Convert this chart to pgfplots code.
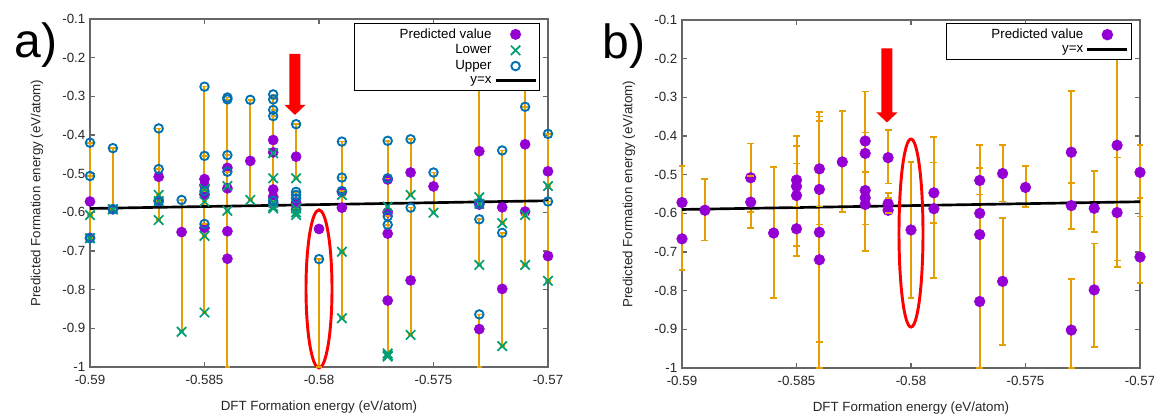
\documentclass[border=0pt]{standalone}
\usepackage{fontspec}
\setmainfont{Liberation Sans}
\usepackage{pgfplots}
\usepackage{pgfplotstable}
\pgfplotsset{compat=1.18}

\definecolor{pviolet}{HTML}{9400D3}
\definecolor{lgreen}{HTML}{009E73}
\definecolor{ublue}{HTML}{0072B2}
\definecolor{eorange}{HTML}{E69F00}

% predicted values, same in both panels
\pgfplotstableread{
x p
-0.590 -0.572
-0.590 -0.666
-0.589 -0.592
-0.587 -0.508
-0.587 -0.571
-0.586 -0.651
-0.585 -0.514
-0.585 -0.530
-0.585 -0.554
-0.585 -0.640
-0.584 -0.485
-0.584 -0.538
-0.584 -0.649
-0.584 -0.720
-0.583 -0.467
-0.582 -0.413
-0.582 -0.445
-0.582 -0.541
-0.582 -0.560
-0.582 -0.577
-0.581 -0.456
-0.581 -0.575
-0.581 -0.592
-0.580 -0.643
-0.579 -0.547
-0.579 -0.588
-0.577 -0.515
-0.577 -0.600
-0.577 -0.655
-0.577 -0.828
-0.576 -0.497
-0.576 -0.776
-0.575 -0.533
-0.573 -0.442
-0.573 -0.580
-0.573 -0.902
-0.572 -0.587
-0.572 -0.798
-0.571 -0.424
-0.571 -0.598
-0.570 -0.494
-0.570 -0.713
}\pred

% panel a: one interval per line, lower then upper (-1 = below the plot)
\pgfplotstableread[row sep=\\]{
x y \\
-0.590 -0.607 \\ -0.590 -0.420 \\ nan nan \\
-0.590 -0.667 \\ -0.590 -0.506 \\ nan nan \\
-0.590 -0.667 \\ -0.590 -0.667 \\ nan nan \\
-0.589 -0.592 \\ -0.589 -0.434 \\ nan nan \\
-0.589 -0.592 \\ -0.589 -0.592 \\ nan nan \\
-0.587 -0.555 \\ -0.587 -0.383 \\ nan nan \\
-0.587 -0.620 \\ -0.587 -0.488 \\ nan nan \\
-0.587 -0.571 \\ -0.587 -0.571 \\ nan nan \\
-0.586 -0.909 \\ -0.586 -0.568 \\ nan nan \\
-0.585 -0.540 \\ -0.585 -0.275 \\ nan nan \\
-0.585 -0.572 \\ -0.585 -0.454 \\ nan nan \\
-0.585 -0.661 \\ -0.585 -0.545 \\ nan nan \\
-0.585 -0.859 \\ -0.585 -0.630 \\ nan nan \\
-0.584 -0.532 \\ -0.584 -0.303 \\ nan nan \\
-0.584 -0.596 \\ -0.584 -0.308 \\ nan nan \\
-0.584 -1.000 \\ -0.584 -0.452 \\ nan nan \\
-0.584 -1.000 \\ -0.584 -0.495 \\ nan nan \\
-0.583 -0.568 \\ -0.583 -0.309 \\ nan nan \\
-0.582 -0.447 \\ -0.582 -0.295 \\ nan nan \\
-0.582 -0.512 \\ -0.582 -0.308 \\ nan nan \\
-0.582 -0.575 \\ -0.582 -0.335 \\ nan nan \\
-0.582 -0.585 \\ -0.582 -0.351 \\ nan nan \\
-0.582 -0.590 \\ -0.582 -0.570 \\ nan nan \\
-0.581 -0.512 \\ -0.581 -0.372 \\ nan nan \\
-0.581 -0.590 \\ -0.581 -0.547 \\ nan nan \\
-0.581 -0.607 \\ -0.581 -0.555 \\ nan nan \\
-0.581 -0.600 \\ -0.581 -0.564 \\ nan nan \\
-0.580 -1.000 \\ -0.580 -0.721 \\ nan nan \\
-0.579 -0.702 \\ -0.579 -0.417 \\ nan nan \\
-0.579 -0.874 \\ -0.579 -0.510 \\ nan nan \\
-0.579 -0.555 \\ -0.579 -0.545 \\ nan nan \\
-0.577 -0.585 \\ -0.577 -0.415 \\ nan nan \\
-0.577 -0.965 \\ -0.577 -0.512 \\ nan nan \\
-0.577 -0.973 \\ -0.577 -0.610 \\ nan nan \\
-0.577 -0.970 \\ -0.577 -0.632 \\ nan nan \\
-0.576 -0.555 \\ -0.576 -0.411 \\ nan nan \\
-0.576 -0.917 \\ -0.576 -0.588 \\ nan nan \\
-0.575 -0.601 \\ -0.575 -0.497 \\ nan nan \\
-0.573 -0.561 \\ -0.573 -0.200 \\ nan nan \\
-0.573 -0.736 \\ -0.573 -0.618 \\ nan nan \\
-0.573 -1.000 \\ -0.573 -0.864 \\ nan nan \\
-0.573 -0.578 \\ -0.573 -0.578 \\ nan nan \\
-0.572 -0.628 \\ -0.572 -0.440 \\ nan nan \\
-0.572 -0.946 \\ -0.572 -0.653 \\ nan nan \\
-0.571 -0.736 \\ -0.571 -0.200 \\ nan nan \\
-0.571 -0.607 \\ -0.571 -0.327 \\ nan nan \\
-0.570 -0.532 \\ -0.570 -0.397 \\ nan nan \\
-0.570 -0.777 \\ -0.570 -0.572 \\ nan nan \\
}\segA

% panel b: error bar ends
\pgfplotstableread[row sep=\\]{
x y \\
-0.590 -0.747 \\ -0.590 -0.478 \\ nan nan \\
-0.589 -0.670 \\ -0.589 -0.511 \\ nan nan \\
-0.587 -0.597 \\ -0.587 -0.419 \\ nan nan \\
-0.587 -0.638 \\ -0.587 -0.504 \\ nan nan \\
-0.586 -0.819 \\ -0.586 -0.480 \\ nan nan \\
-0.585 -0.685 \\ -0.585 -0.400 \\ nan nan \\
-0.585 -0.711 \\ -0.585 -0.426 \\ nan nan \\
-0.585 -0.582 \\ -0.585 -0.471 \\ nan nan \\
-0.584 -0.582 \\ -0.584 -0.338 \\ nan nan \\
-0.584 -0.629 \\ -0.584 -0.350 \\ nan nan \\
-0.584 -0.932 \\ -0.584 -0.361 \\ nan nan \\
-0.584 -1.000 \\ -0.584 -0.582 \\ nan nan \\
-0.583 -0.597 \\ -0.583 -0.335 \\ nan nan \\
-0.582 -0.493 \\ -0.582 -0.285 \\ nan nan \\
-0.582 -0.629 \\ -0.582 -0.391 \\ nan nan \\
-0.582 -0.697 \\ -0.582 -0.391 \\ nan nan \\
-0.582 -0.629 \\ -0.582 -0.493 \\ nan nan \\
-0.581 -0.523 \\ -0.581 -0.385 \\ nan nan \\
-0.581 -0.599 \\ -0.581 -0.547 \\ nan nan \\
-0.581 -0.599 \\ -0.581 -0.560 \\ nan nan \\
-0.580 -0.819 \\ -0.580 -0.467 \\ nan nan \\
-0.579 -0.625 \\ -0.579 -0.403 \\ nan nan \\
-0.579 -0.767 \\ -0.579 -0.469 \\ nan nan \\
-0.577 -0.551 \\ -0.577 -0.424 \\ nan nan \\
-0.577 -1.000 \\ -0.577 -0.482 \\ nan nan \\
-0.576 -0.569 \\ -0.576 -0.424 \\ nan nan \\
-0.576 -0.940 \\ -0.576 -0.612 \\ nan nan \\
-0.575 -0.583 \\ -0.575 -0.478 \\ nan nan \\
-0.573 -0.521 \\ -0.573 -0.283 \\ nan nan \\
-0.573 -0.640 \\ -0.573 -0.521 \\ nan nan \\
-0.573 -1.000 \\ -0.573 -0.770 \\ nan nan \\
-0.572 -0.648 \\ -0.572 -0.491 \\ nan nan \\
-0.572 -0.946 \\ -0.572 -0.678 \\ nan nan \\
-0.571 -0.739 \\ -0.571 -0.150 \\ nan nan \\
-0.571 -0.722 \\ -0.571 -0.456 \\ nan nan \\
-0.570 -0.608 \\ -0.570 -0.424 \\ nan nan \\
-0.570 -0.780 \\ -0.570 -0.560 \\ nan nan \\
}\segB

\pgfplotsset{
  fe/.style={
    scale only axis, width=343.5pt, height=261pt,
    xmin=-0.59, xmax=-0.57, ymin=-1, ymax=-0.1,
    xtick={-0.59,-0.585,-0.58,-0.575,-0.57},
    ytick={-1,-0.9,-0.8,-0.7,-0.6,-0.5,-0.4,-0.3,-0.2,-0.1},
    scaled ticks=false,
    tick align=inside, major tick length=4pt,
    axis line style={black!60, line width=0.9pt},
    every tick/.style={black!60, line width=0.8pt},
    tick label style={black!85},
    /pgf/number format/assume math mode=true,
    xticklabel style={yshift=-2.5pt, /pgf/number format/.cd, fixed, precision=3},
    yticklabel style={/pgf/number format/.cd, fixed, precision=1},
    xlabel={DFT Formation energy (eV/atom)},
    ylabel={Predicted Formation energy (eV/atom)},
    every axis x label/.style={at={(axis description cs:0.5,-0.115)}, anchor=center, black!85},
    every axis y label/.style={at={(axis description cs:-0.116,0.5)}, rotate=90, anchor=center, black!85},
    clip=false,
    legend plot pos=right,
    legend cell align=right,
    legend image code/.code={\draw[mark repeat=2,mark phase=2,##1] plot coordinates {(0pt,0pt) (15pt,0pt) (30pt,0pt)};},
    legend style={anchor=north east, draw=black, line width=0.6pt, row sep=-0.6pt, inner sep=2pt},
  },
  seg/.style={forget plot, color=eorange, line width=1.5pt, mark=-, mark size=#1,
    mark options={solid, line width=1.2pt}, unbounded coords=jump},
}

\begin{document}
\begin{tikzpicture}
\useasboundingbox (-67.5pt,-36pt) rectangle (798pt,275.25pt);

% ---- panel a
\begin{axis}[fe, at={(0pt,0pt)}, anchor=south west,
  legend style={at={(0.9825,0.989)}}]
\addplot[only marks, mark=*, mark size=3.8pt, pviolet] table[x=x,y=p]{\pred};
\addlegendentry{\hspace*{30pt}Predicted value}
\addplot[seg=2pt] table[x=x,y=y]{\segA};
\addplot[only marks, mark=x, mark size=5pt, lgreen, line width=1.3pt,
  x filter/.expression={mod(\coordindex,3)==0 ? x : nan},
  restrict y to domain=-0.995:0] table[x=x,y=y]{\segA};
\addlegendentry{Lower}
\addplot[only marks, mark=o, mark size=3.2pt, ublue, line width=1.4pt,
  x filter/.expression={mod(\coordindex,3)==1 ? x : nan},
  restrict y to domain=-0.995:-0.21] table[x=x,y=y]{\segA};
\addlegendentry{Upper}
\addplot[black, line width=2pt] coordinates {(-0.59,-0.59) (-0.57,-0.57)};
\addlegendentry{y=x}
\fill[red] (axis cs:-0.58105,-0.348) -- ++(-7.9pt,7.5pt) -- ++(3.8pt,0pt) -- ++(0pt,38.25pt)
  -- ++(8.2pt,0pt) -- ++(0pt,-38.25pt) -- ++(3.8pt,0pt) -- cycle;
\draw[red, line width=2.2pt] (axis cs:-0.58,-0.798) ellipse [x radius=9.75pt, y radius=59.25pt];
\end{axis}

% ---- panel b
\begin{axis}[fe, at={(444pt,-0.75pt)}, anchor=south west,
  legend style={at={(0.982,0.991)}}]
\addplot[only marks, mark=*, mark size=4pt, pviolet] table[x=x,y=p]{\pred};
\addlegendentry{\hspace*{30pt}Predicted value}
\addplot[seg=2.6pt] table[x=x,y=y]{\segB};
\addplot[black, line width=2pt] coordinates {(-0.59,-0.59) (-0.57,-0.57)};
\addlegendentry{y=x}
\fill[red] (axis cs:-0.58105,-0.365) -- ++(-7.9pt,7.5pt) -- ++(3.8pt,0pt) -- ++(0pt,48pt)
  -- ++(8.2pt,0pt) -- ++(0pt,-48pt) -- ++(3.8pt,0pt) -- cycle;
\draw[red, line width=2.2pt] (axis cs:-0.58,-0.651) ellipse [x radius=9pt, y radius=70.5pt];
\end{axis}

\node[anchor=base west, font=\fontsize{36}{40}\selectfont] at (-60pt,232.5pt) {a)};
\node[anchor=base west, font=\fontsize{36}{40}\selectfont] at (381pt,231.75pt) {b)};
\end{tikzpicture}
\end{document}
